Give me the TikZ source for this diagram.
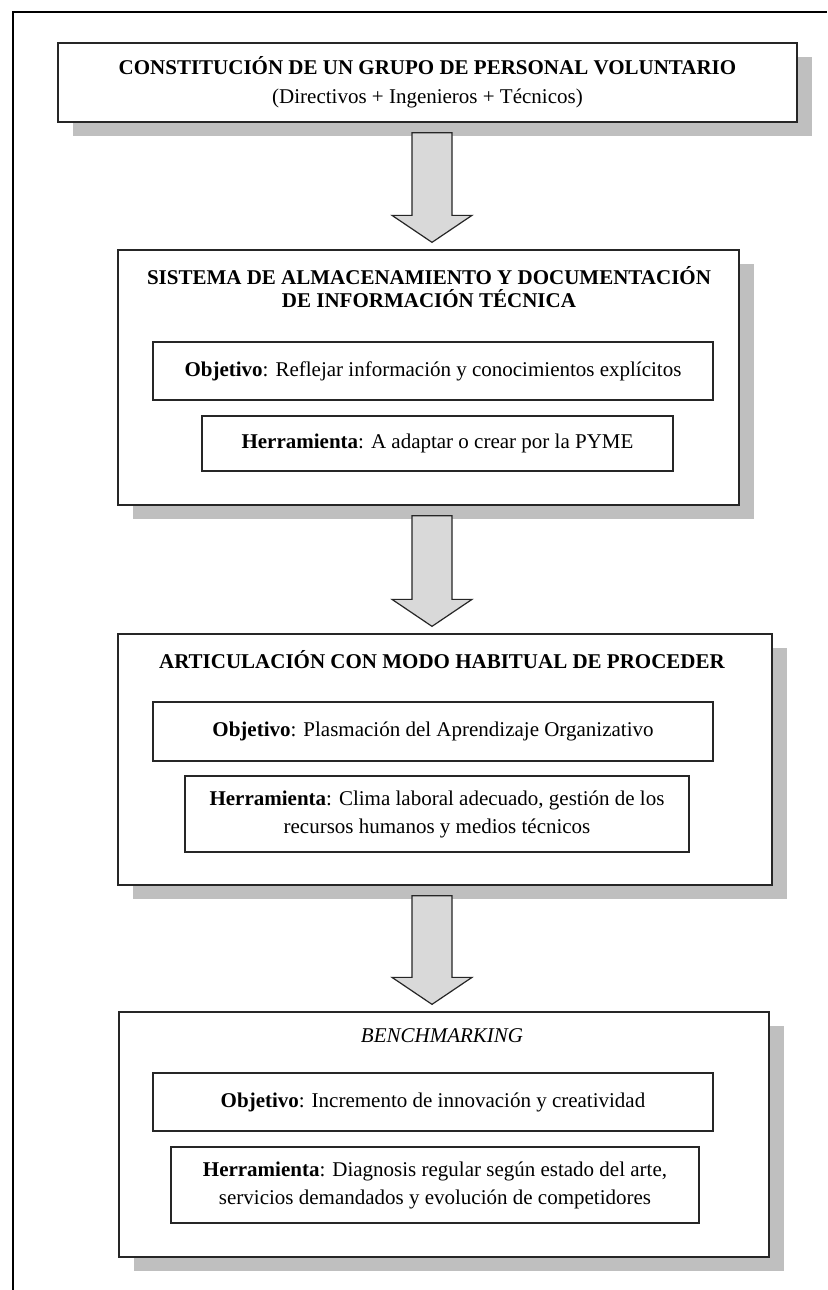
\documentclass[tikz,border=0pt]{standalone}
\usepackage{fontspec}
\setmainfont{Liberation Serif}
\usetikzlibrary{shadows,calc}
\definecolor{shadowgray}{HTML}{BFBFBF}
\definecolor{arrowfill}{HTML}{D9D9D9}
\definecolor{edgegray}{HTML}{262626}
\begin{document}
\begin{tikzpicture}[x=1pt,y=-1pt,
  stagebox/.style={draw=edgegray, line width=1.3pt, fill=white, inner sep=0pt,
    drop shadow={shadow xshift=15pt, shadow yshift=-14pt, fill=shadowgray, opacity=1}},
  itembox/.style={draw=edgegray, line width=1.3pt, fill=white, inner sep=0pt,
    align=center, font=\fontsize{21}{28}\selectfont},
  heading/.style={font=\fontsize{21}{23}\selectfont\bfseries, align=center, inner sep=0pt},
  flowarrow/.style={draw=edgegray, fill=arrowfill, line width=1.2pt, line join=miter},
  frameline/.style={line width=2.4pt, black}
]
\useasboundingbox (0,0) rectangle (827,1290);
\fill[white] (0,0) rectangle (827,1290);

% page frame (top and left rules)
\draw[frameline] (13,1290) -- (13,12) -- (827,12);

% stage 1
\node[stagebox, minimum width=739pt, minimum height=79pt, align=center,
  font=\fontsize{21}{23}\selectfont] (b1) at (427.5,82.5)
  {\textbf{CONSTITUCIÓN DE UN GRUPO DE PERSONAL VOLUNTARIO}\\[6pt](Directivos + Ingenieros + Técnicos)};

% stage 2
\node[stagebox, minimum width=621pt, minimum height=255pt] (b2) at (428.5,377.5) {};
\node[heading] (h2) at (429,287) {SISTEMA DE ALMACENAMIENTO Y DOCUMENTACIÓN\\DE INFORMACIÓN TÉCNICA};
\node[itembox, minimum width=560pt, minimum height=58pt] (o2) at (433,371)
  {\textbf{Objetivo}: Reflejar información y conocimientos explícitos};
\node[itembox, minimum width=471pt, minimum height=55pt] (t2) at (437.5,443.5)
  {\textbf{Herramienta}: A adaptar o crear por la PYME};

% stage 3
\node[stagebox, minimum width=654pt, minimum height=251pt] (b3) at (445,759.5) {};
\node[heading] (h3) at (442,660) {ARTICULACIÓN CON MODO HABITUAL DE PROCEDER};
\node[itembox, minimum width=560pt, minimum height=59pt] (o3) at (433,731.5)
  {\textbf{Objetivo}: Plasmación del Aprendizaje Organizativo};
\node[itembox, minimum width=504pt, minimum height=76pt] (t3) at (437,814)
  {\textbf{Herramienta}: Clima laboral adecuado, gestión de los\\recursos humanos y medios técnicos};

% stage 4
\node[stagebox, minimum width=650pt, minimum height=245pt] (b4) at (444,1134.5) {};
\node[heading, font=\fontsize{21}{23}\selectfont\itshape] (h4) at (442,1036) {BENCHMARKING};
\node[itembox, minimum width=560pt, minimum height=58pt] (o4) at (433,1102)
  {\textbf{Objetivo}: Incremento de innovación y creatividad};
\node[itembox, minimum width=528pt, minimum height=76pt] (t4) at (435,1185)
  {\textbf{Herramienta}: Diagnosis regular según estado del arte,\\servicios demandados y evolución de competidores};

% block arrows between stages
\coordinate (col) at (432,0);
\foreach \a/\b/\i in {b1/b2/1, b2/b3/2, b3/b4/3} {
  \coordinate (s\i) at ($(\a.south -| col)+(0,10)$);
  \coordinate (t\i) at ($(\b.north -| col)+(0,-7)$);
  \draw[flowarrow] ($(s\i)+(-20,0)$) -- ($(t\i)+(-20,-27)$) -- ($(t\i)+(-40,-27)$)
    -- (t\i) -- ($(t\i)+(40,-27)$) -- ($(t\i)+(20,-27)$) -- ($(s\i)+(20,0)$) -- cycle;
}
\end{tikzpicture}
\end{document}
